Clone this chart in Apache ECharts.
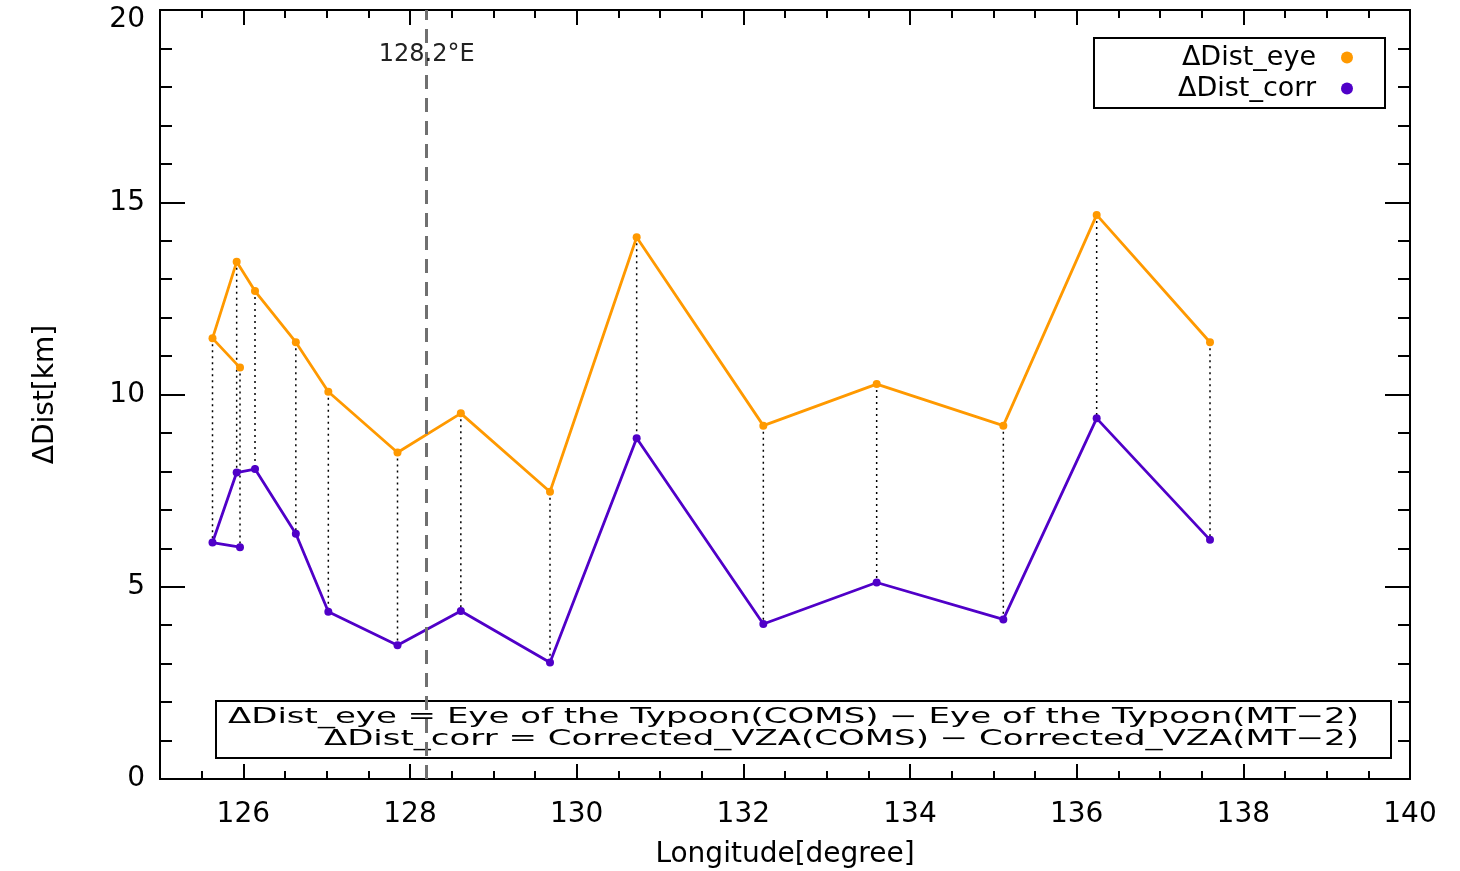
<!DOCTYPE html>
<html><head><meta charset="utf-8">
<script src="https://cdn.jsdelivr.net/npm/echarts@6/dist/echarts.min.js"></script>
<style>html,body{margin:0;padding:0;background:#fff}#c{width:1460px;height:871px}</style>
</head><body><div id="c"></div>
<script>
// ---- data ----
const lon      = [125.96, 125.63, 125.92, 126.14, 126.63, 127.02, 127.85, 128.61, 129.68, 130.72, 132.24, 133.60, 135.12, 136.24, 137.60];
const distEye  = [10.70, 11.46, 13.45, 12.69, 11.36, 10.07, 8.49, 9.51, 7.47, 14.09, 9.19, 10.27, 9.19, 14.67, 11.36];
const distCorr = [6.03, 6.15, 7.97, 8.06, 6.38, 4.35, 3.48, 4.37, 3.03, 8.86, 4.03, 5.11, 4.15, 9.38, 6.22];
const xMajorTicks = [126, 128, 130, 132, 134, 136, 138, 140];
const xMinorTicks = [125.5, 126.5, 127, 127.5, 128.5, 129, 129.5, 130.5, 131, 131.5, 132.5, 133, 133.5, 134.5, 135, 135.5, 136.5, 137, 137.5, 138.5, 139, 139.5];
const refLon = 128.2;
const refLabel = '128.2°E';
const refLabelY = 18.83;
const seriesNames = ['ΔDist_eye', 'ΔDist_corr'];
const xName = 'Longitude[degree]';
const yName = 'ΔDist[km]';
const noteLines = ['ΔDist_eye = Eye of the Typoon(COMS) − Eye of the Typoon(MT−2)',
                   'ΔDist_corr = Corrected_VZA(COMS) − Corrected_VZA(MT−2)'];

const FONT = 'DejaVu Sans';
const colEye = '#FF9900', colCorr = '#5000C8';
const Y_MAX = 20;

const chart = echarts.init(document.getElementById('c'), null, {renderer: 'canvas'});

function xAxisDef(pos, ticks, len, labels) {
  return {
    type: 'value', min: 125, max: 140, position: pos, gridIndex: 0,
    axisLine: {show: true, onZero: false, lineStyle: {color: '#000', width: 2}},
    axisTick: {show: true, inside: true, length: len, customValues: ticks, lineStyle: {color: '#000', width: 2}},
    axisLabel: labels ? {show: true, customValues: ticks, fontSize: 28, fontFamily: FONT, color: '#000', margin: 22} : {show: false},
    splitLine: {show: false},
    name: labels ? xName : '', nameLocation: 'middle', nameGap: 62,
    nameTextStyle: {fontSize: 28, fontFamily: FONT, color: '#000'}
  };
}
function yAxisDef(pos, labels) {
  return {
    type: 'value', min: 0, max: Y_MAX, interval: 5, position: pos,
    axisLine: {show: true, onZero: false, lineStyle: {color: '#000', width: 2}},
    axisTick: {show: true, inside: true, length: 25, lineStyle: {color: '#000', width: 2}},
    minorTick: {show: true, splitNumber: 5, length: 12, lineStyle: {color: '#000', width: 2}},
    axisLabel: labels ? {
      show: true, fontSize: 28, fontFamily: FONT, color: '#000', margin: 15,
      formatter: v => (v === Y_MAX ? '{top|' + v + '}' : String(v)),
      rich: {top: {fontSize: 28, fontFamily: FONT, color: '#000', padding: [20, 0, 0, 0]}}
    } : {show: false},
    splitLine: {show: false},
    name: labels ? yName : '', nameLocation: 'middle', nameGap: 100,
    nameTextStyle: {fontSize: 28, fontFamily: FONT, color: '#000'}
  };
}

// scale the note text horizontally to match the wide reference font
const cv = document.createElement('canvas').getContext('2d');
const noteFontSize = 21;
cv.font = noteFontSize + 'px "' + FONT + '"';
const noteScale = 1131 / cv.measureText(noteLines[0]).width;

const option = {
  backgroundColor: '#fff',
  animation: false,
  grid: {left: 160, right: 50, top: 10, bottom: 92, containLabel: false, outerBoundsMode: 'none'},
  xAxis: [
    xAxisDef('bottom', xMajorTicks, 15, true),
    xAxisDef('top', xMajorTicks, 15, false),
    xAxisDef('bottom', xMinorTicks, 8, false),
    xAxisDef('top', xMinorTicks, 8, false)
  ],
  yAxis: [yAxisDef('left', true), yAxisDef('right', false)],
  legend: {
    data: seriesNames, orient: 'vertical', align: 'right',
    top: 38, right: 75, icon: 'circle', itemWidth: 12, itemHeight: 12, itemGap: 4,
    borderColor: '#000', borderWidth: 2, borderRadius: 0, padding: [6, 32, 6, 84],
    textStyle: {fontSize: 27, fontFamily: FONT, color: '#000', padding: [0, 20, 0, 0]}
  },
  graphic: [{
    type: 'group', left: 215, top: 700,
    children: [
      {type: 'rect', shape: {x: 0, y: 0, width: 1175, height: 57}, style: {fill: '#fff', stroke: '#000', lineWidth: 2}},
      {type: 'text', x: 1143, y: 17, scaleX: noteScale,
       style: {text: noteLines[0], align: 'right', verticalAlign: 'middle', font: noteFontSize + 'px "' + FONT + '"', fill: '#000'}},
      {type: 'text', x: 1143, y: 39, scaleX: noteScale,
       style: {text: noteLines[1], align: 'right', verticalAlign: 'middle', font: noteFontSize + 'px "' + FONT + '"', fill: '#000'}}
    ]
  }],
  series: [
    {
      name: 'connectors', type: 'custom', xAxisIndex: 0, yAxisIndex: 0, z: 1, silent: true,
      data: lon.map((x, i) => [x, distEye[i], distCorr[i]]),
      encode: {x: 0, y: [1, 2]},
      renderItem: function (params, api) {
        const x = api.value(0);
        const a = api.coord([x, api.value(1)]);
        const b = api.coord([x, api.value(2)]);
        return {type: 'line', shape: {x1: a[0], y1: a[1], x2: b[0], y2: b[1]},
                style: {stroke: '#000', lineWidth: 1.5, lineDash: [2, 4]}};
      }
    },
    {
      name: 'ref', type: 'line', data: [], z: 2, silent: true,
      markLine: {silent: true, symbol: 'none', label: {show: false},
                 lineStyle: {type: [14, 9], color: '#707070', width: 3},
                 data: [{xAxis: refLon}]},
      markPoint: {symbol: 'circle', symbolSize: 1, itemStyle: {color: 'rgba(0,0,0,0)'},
                  label: {show: true, position: 'inside', formatter: refLabel, fontSize: 24, fontFamily: FONT, color: '#222'},
                  data: [{coord: [refLon, refLabelY]}]}
    },
    {
      name: seriesNames[0], type: 'line', z: 3,
      data: lon.map((x, i) => [x, distEye[i]]),
      symbol: 'circle', symbolSize: 8, showSymbol: true,
      lineStyle: {color: colEye, width: 2.8}, itemStyle: {color: colEye}
    },
    {
      name: seriesNames[1], type: 'line', z: 3,
      data: lon.map((x, i) => [x, distCorr[i]]),
      symbol: 'circle', symbolSize: 8, showSymbol: true,
      lineStyle: {color: colCorr, width: 2.8}, itemStyle: {color: colCorr}
    }
  ]
};
chart.setOption(option);
</script>
</body></html>
